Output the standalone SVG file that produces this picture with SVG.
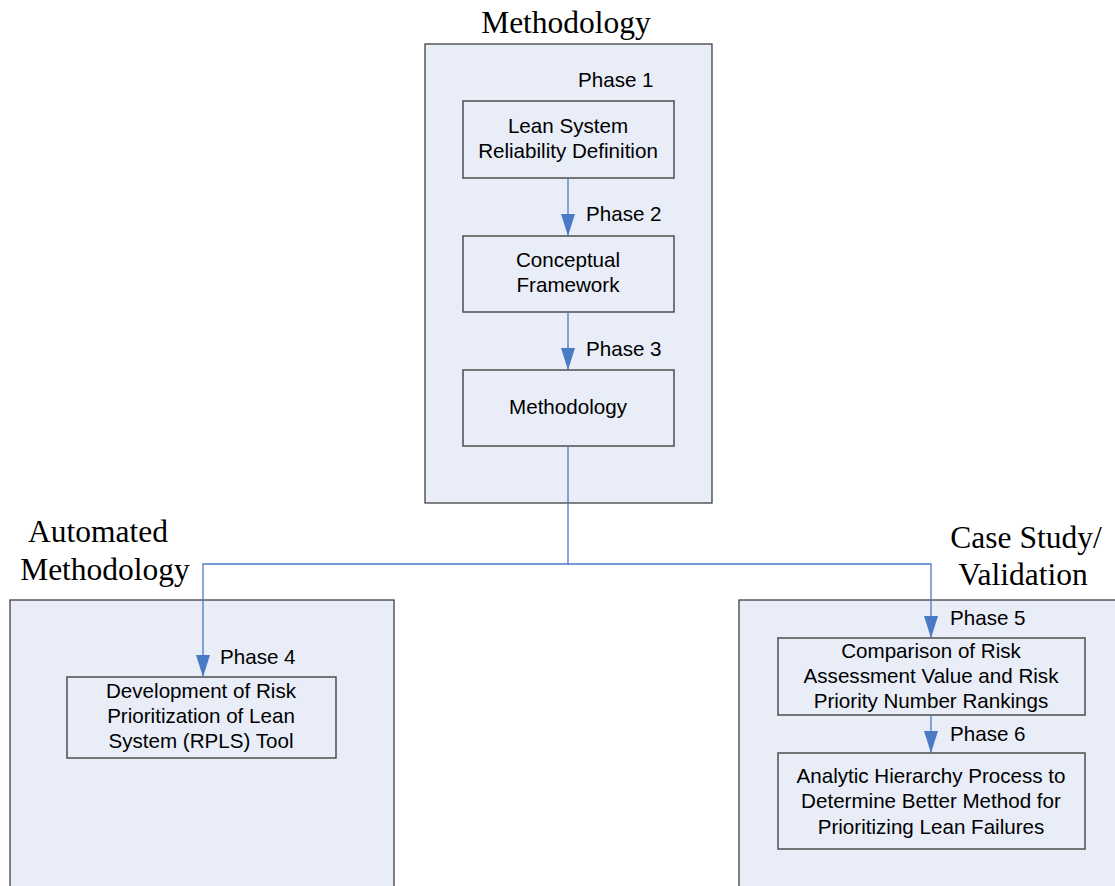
<svg xmlns="http://www.w3.org/2000/svg" width="1115" height="886" viewBox="0 0 1115 886">
<style>
.cont{fill:#E8EDF7;stroke:#404040;stroke-width:1.3}
.box{fill:#E8EDF7;stroke:#4d4d4d;stroke-width:1.5}
.t{font-family:"Liberation Sans",Arial,sans-serif;font-size:20.6px;fill:#000;text-anchor:middle}
.p{font-family:"Liberation Sans",Arial,sans-serif;font-size:20.6px;fill:#000}
.h{font-family:"Liberation Serif","Times New Roman",serif;font-size:31.5px;fill:#000;text-anchor:middle}
.c{fill:none;stroke:#4A7AC4;stroke-width:1.3}
</style>
<defs>
<marker id="a" markerWidth="22" markerHeight="14" refX="21" refY="7" orient="auto" markerUnits="userSpaceOnUse" viewBox="0 0 22 14">
<path d="M0,0 L22,7 L0,14 Z" fill="#4A7AC4"/>
</marker>
</defs>
<rect width="1115" height="886" fill="#fff"/>
<g id="methodology-group">
<text class="h" x="566" y="33">Methodology</text>
<rect class="cont" x="425" y="44" width="287" height="459"/>
</g>
<g id="automated-group">
<text class="h" x="98" y="542">Automated</text>
<text class="h" x="105" y="580">Methodology</text>
<rect class="cont" x="10" y="600" width="384" height="300"/>
</g>
<g id="case-group">
<text class="h" x="1026" y="548">Case Study/</text>
<text class="h" x="1023" y="585">Validation</text>
<rect class="cont" x="739" y="600" width="390" height="300"/>
</g>
<g id="phase1">
<text class="p" x="578" y="87">Phase 1</text>
<rect class="box" x="463" y="101" width="211" height="77"/>
<text class="t" x="568" y="133">Lean System</text>
<text class="t" x="568" y="158">Reliability Definition</text>
</g>
<g id="phase2">
<text class="p" x="586" y="221">Phase 2</text>
<rect class="box" x="463" y="236" width="211" height="76"/>
<text class="t" x="568" y="267">Conceptual</text>
<text class="t" x="568" y="292">Framework</text>
</g>
<g id="phase3">
<text class="p" x="586" y="356">Phase 3</text>
<rect class="box" x="463" y="370" width="211" height="76"/>
<text class="t" x="568" y="414">Methodology</text>
</g>
<g id="phase4">
<text class="p" x="220" y="664">Phase 4</text>
<rect class="box" x="67" y="677" width="269" height="81"/>
<text class="t" x="201" y="698">Development of Risk</text>
<text class="t" x="201" y="723">Prioritization of Lean</text>
<text class="t" x="201" y="748">System (RPLS) Tool</text>
</g>
<g id="phase5">
<text class="p" x="950" y="625">Phase 5</text>
<rect class="box" x="778" y="638" width="307" height="77"/>
<text class="t" x="931" y="658">Comparison of Risk</text>
<text class="t" x="931" y="683">Assessment Value and Risk</text>
<text class="t" x="931" y="708">Priority Number Rankings</text>
</g>
<g id="phase6">
<text class="p" x="950" y="741">Phase 6</text>
<rect class="box" x="778" y="753" width="307" height="96"/>
<text class="t" x="931" y="783">Analytic Hierarchy Process to</text>
<text class="t" x="931" y="808">Determine Better Method for</text>
<text class="t" x="931" y="834">Prioritizing Lean Failures</text>
</g>
<g id="connectors">
<path class="c" d="M568,178 V235" marker-end="url(#a)"/>
<path class="c" d="M568,312 V369" marker-end="url(#a)"/>
<path class="c" d="M568,446 V564 H203 V676" marker-end="url(#a)"/>
<path class="c" d="M568,564 H931 V637" marker-end="url(#a)"/>
<path class="c" d="M931,715 V752" marker-end="url(#a)"/>
</g>
</svg>
